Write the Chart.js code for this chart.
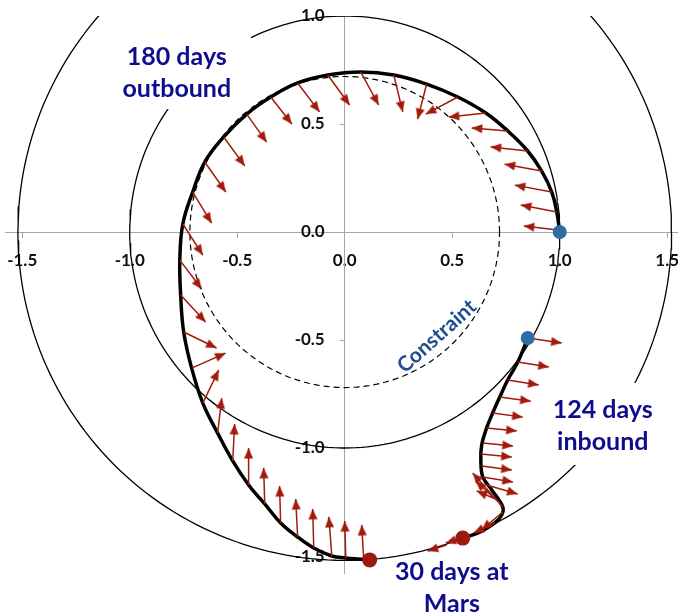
<!DOCTYPE html>
<html>
<head>
<meta charset="utf-8">
<script src="https://cdn.jsdelivr.net/npm/chart.js@4/dist/chart.umd.min.js"></script>
<style>
  html, body { margin: 0; padding: 0; background: #fff; }
  canvas { display: block; }
</style>
</head>
<body>
<canvas id="c" width="678" height="615"></canvas>
<script>
// Axis ticks (AU)
const xTicks = [-1.5, -1.0, -0.5, 0.0, 0.5, 1.0, 1.5];
const yTicks = [1.0, 0.5, 0.0, -0.5, -1.0, -1.5];

// Orbit radii (AU)
const earthRadius = 1.0;
const marsRadius = 1.52;
const constraintRadius = 0.72;

// Outbound leg: Earth departure -> Mars arrival (180 days)
const outX = [1.000, 0.986, 0.963, 0.916, 0.851, 0.758, 0.656, 0.526, 0.381, 0.228, 0.074, -0.079,
  -0.219, -0.344, -0.456, -0.563, -0.651, -0.707, -0.753, -0.767, -0.763, -0.749, -0.712, -0.660, -0.591,
  -0.521, -0.447, -0.372, -0.298, -0.219, -0.144, -0.060, 0.005, 0.060, 0.116];
const outY = [0.000, 0.093, 0.185, 0.282, 0.375, 0.468, 0.551, 0.625, 0.685, 0.727, 0.741, 0.727,
  0.690, 0.625, 0.546, 0.440, 0.324, 0.185, 0.037, -0.130, -0.292, -0.463, -0.630, -0.792, -0.931,
  -1.060, -1.171, -1.259, -1.347, -1.412, -1.463, -1.500, -1.509, -1.514, -1.518];

// Inbound leg: Mars departure -> Earth arrival (124 days)
const inX = [0.549, 0.628, 0.698, 0.730, 0.735, 0.684, 0.642, 0.633, 0.637, 0.660, 0.688, 0.721, 0.758, 0.805, 0.851];
const inY = [-1.417, -1.389, -1.347, -1.310, -1.273, -1.194, -1.134, -1.056, -0.986, -0.907, -0.838, -0.764, -0.685, -0.602, -0.491];

// Thrust vectors: tail position (AU) and direction/magnitude (AU on the plot)
const thrustX = [0.991, 0.986, 0.963, 0.916, 0.851, 0.758, 0.656, 0.526, 0.381, 0.228, 0.074, -0.079, -0.219, -0.344,
  -0.456, -0.563, -0.651, -0.707, -0.753, -0.767, -0.763, -0.749, -0.712, -0.660, -0.591, -0.521, -0.447, -0.372,
  -0.298, -0.219, -0.144, -0.060, 0.005, 0.088,
  0.544, 0.474,
  0.698, 0.735, 0.735, 0.721, 0.702, 0.660, 0.642, 0.637, 0.633, 0.642, 0.660, 0.688, 0.721, 0.758, 0.805, 0.851];
const thrustY = [0.009, 0.093, 0.185, 0.282, 0.375, 0.468, 0.551, 0.625, 0.685, 0.727, 0.741, 0.727, 0.690, 0.625,
  0.546, 0.440, 0.324, 0.185, 0.037, -0.130, -0.292, -0.463, -0.630, -0.792, -0.931, -1.060, -1.171, -1.259,
  -1.347, -1.412, -1.463, -1.500, -1.509, -1.513,
  -1.417, -1.449,
  -1.347, -1.296, -1.273, -1.255, -1.236, -1.171, -1.134, -1.083, -1.028, -0.977, -0.907, -0.838, -0.764, -0.685, -0.602, -0.491];
const thrustU = [-0.158, -0.167, -0.172, -0.172, -0.172, -0.167, -0.172, -0.149, -0.042, 0.042, 0.084, 0.102, 0.102, 0.098,
  0.093, 0.098, 0.098, 0.088, 0.093, 0.102, 0.116, 0.153, 0.158, 0.074, 0.019, 0.009, 0.000, -0.005,
  -0.005, -0.009, -0.005, -0.014, -0.005, -0.009,
  -0.074, -0.088,
  -0.098, -0.098, -0.140, -0.112, -0.088, 0.144, 0.140, 0.140, 0.144, 0.140, 0.140, 0.140, 0.144, 0.144, 0.144, 0.158];
const thrustV = [0.019, 0.032, 0.032, 0.032, 0.019, 0.014, -0.019, -0.079, -0.162, -0.171, -0.153, -0.139, -0.134, -0.125,
  -0.130, -0.134, -0.139, -0.144, -0.144, -0.134, -0.125, -0.074, 0.069, 0.153, 0.162, 0.171, 0.171, 0.167,
  0.171, 0.176, 0.181, 0.181, 0.171, 0.157,
  -0.023, -0.028,
  -0.046, -0.083, 0.157, 0.102, 0.037, -0.042, -0.023, -0.019, -0.014, -0.014, -0.014, -0.019, -0.019, -0.023, -0.023, -0.023];

// Event markers
const earthEventX = [1.000, 0.851];
const earthEventY = [0.000, -0.491];
const marsEventX = [0.116, 0.549];
const marsEventY = [-1.518, -1.417];

// Text notes anchored in plot coordinates (first baseline)
const notes = [
  { lines: ['180 days', 'outbound'], x: -0.781, y: 0.773, panel: [74, 74, 35, 44] },
  { lines: ['124 days', 'inbound'],  x: 1.200,  y: -0.861, panel: [58, 62, 35, 47] },
  { lines: ['30 days at', 'Mars'],   x: 0.498,  y: -1.611, panel: null }
];
const constraintNote = { text: 'Constraint', x: 0.428, y: -0.483, angle: -42 };

const AXIS_GREY = '#A6A6A6';
const ARROW_RED = '#A11A0B';
const NOTE_BLUE = '#0E0E8C';
const CONSTRAINT_BLUE = '#1F4E8F';

const zip = (xs, ys) => xs.map((x, i) => ({ x, y: ys[i] }));

function ring(r) {
  const pts = [];
  for (let a = 0; a <= 360; a += 1.5) {
    const t = a * Math.PI / 180;
    pts.push({ x: r * Math.cos(t), y: r * Math.sin(t) });
  }
  return pts;
}

// Shafts: tail -> tip pairs separated by gaps
const shaftPts = [];
const tipPts = [];
const tipRot = [];
thrustX.forEach((x0, i) => {
  const x1 = x0 + thrustU[i], y1 = thrustY[i] + thrustV[i];
  shaftPts.push({ x: x0, y: thrustY[i] }, { x: x1, y: y1 }, { x: null, y: null });
  tipPts.push({ x: x1, y: y1 });
  tipRot.push(Math.atan2(thrustU[i], thrustV[i]) * 180 / Math.PI);
});

// Arrowhead sprite: tip at the sprite centre, pointing up
const head = document.createElement('canvas');
head.width = 9; head.height = 22;
(function () {
  const g = head.getContext('2d');
  g.fillStyle = ARROW_RED;
  g.beginPath();
  g.moveTo(4.5, 11);
  g.lineTo(9, 21.5);
  g.lineTo(0, 21.5);
  g.closePath();
  g.fill();
})();

// Moves the vertical axis onto x = 0 once the layout is settled;
// its box keeps room on the left for the tick labels
const crossAxes = {
  id: 'crossAxes',
  afterLayout(chart) {
    const y = chart.scales.y;
    const x0 = chart.scales.x.getPixelForValue(0);
    y.left = x0 - 80;
    y.right = x0;
    y.width = 80;
  }
};

const notesPlugin = {
  id: 'notes',
  afterDatasetDraw(chart, args) {
    if (chart.data.datasets[args.index].label !== 'Constraint') return;
    const ctx = chart.ctx, sx = chart.scales.x, sy = chart.scales.y;
    ctx.save();
    ctx.fillStyle = '#fff';
    notes.forEach(n => {
      if (!n.panel) return;
      const px = sx.getPixelForValue(n.x), py = sy.getPixelForValue(n.y);
      const [l, r, t, b] = n.panel;
      ctx.fillRect(px - l, py - t, l + r, t + b);
    });
    ctx.restore();
  },
  afterDraw(chart) {
    const ctx = chart.ctx, sx = chart.scales.x, sy = chart.scales.y;
    ctx.save();
    ctx.font = 'bold 25px Lato';
    ctx.fillStyle = NOTE_BLUE;
    ctx.textAlign = 'center';
    ctx.textBaseline = 'alphabetic';
    notes.forEach(n => {
      const px = sx.getPixelForValue(n.x), py = sy.getPixelForValue(n.y);
      n.lines.forEach((s, k) => ctx.fillText(s, px, py + k * 32));
    });
    const c = constraintNote;
    ctx.translate(sx.getPixelForValue(c.x), sy.getPixelForValue(c.y));
    ctx.rotate(c.angle * Math.PI / 180);
    ctx.font = 'bold 21px Lato';
    ctx.fillStyle = CONSTRAINT_BLUE;
    ctx.textBaseline = 'middle';
    ctx.fillText(c.text, 0, 0);
    ctx.restore();
  }
};

const tickFont = { family: 'Lato', size: 17, weight: 'bold' };

function axisOptions(min, max, ticksArr, horizontal) {
  return {
    type: 'linear',
    min, max,
    position: horizontal ? { y: 0 } : 'left',
    afterFit: s => {
      // the axes sit inside the plot, so they reserve no room of their own
      if (horizontal) s.height = 0; else s.width = 0;
      s.paddingLeft = s.paddingRight = s.paddingTop = s.paddingBottom = 0;
    },
    afterBuildTicks: s => { s.ticks = ticksArr.map(v => ({ value: v })); },
    grid: { drawOnChartArea: false, drawTicks: true, tickLength: 5, color: AXIS_GREY, lineWidth: 1 },
    border: { display: true, color: AXIS_GREY, width: 1 },
    ticks: {
      font: tickFont, color: '#111', padding: horizontal ? 13 : 15, maxRotation: 0, autoSkip: false,
      callback: v => Number(v).toFixed(1)
    }
  };
}

new Chart(document.getElementById('c'), {
  type: 'scatter',
  data: {
    datasets: [
      { label: 'Earth events', data: zip(earthEventX, earthEventY), order: 0,
        pointRadius: 7, backgroundColor: '#2E6CA6', borderWidth: 0 },
      { label: 'Mars events', data: zip(marsEventX, marsEventY), order: 0,
        pointRadius: 7.5, backgroundColor: '#9C1A0B', borderWidth: 0 },
      { label: 'Thrust heads', data: tipPts, order: 1,
        pointStyle: head, pointRadius: 5, pointRotation: tipRot },
      { label: 'Thrust', data: shaftPts, order: 2, showLine: true, spanGaps: false,
        borderColor: ARROW_RED, borderWidth: 1.5, pointRadius: 0 },
      { label: 'Outbound', data: zip(outX, outY), order: 3, showLine: true,
        borderColor: '#000', borderWidth: 3.5, pointRadius: 0, tension: 0.4 },
      { label: 'Inbound', data: zip(inX, inY), order: 3, showLine: true,
        borderColor: '#000', borderWidth: 3.5, pointRadius: 0, tension: 0.35 },
      { label: 'Constraint', data: ring(constraintRadius), order: 4, showLine: true,
        borderColor: '#000', borderWidth: 1.2, borderDash: [6, 4], pointRadius: 0 },
      { label: 'Earth orbit', data: ring(earthRadius), order: 5, showLine: true,
        borderColor: '#000', borderWidth: 1.3, pointRadius: 0 },
      { label: 'Mars orbit', data: ring(marsRadius), order: 6, showLine: true,
        borderColor: '#000', borderWidth: 1.3, pointRadius: 0 }
    ]
  },
  options: {
    responsive: false,
    animation: false,
    devicePixelRatio: 1,
    layout: { autoPadding: false, padding: { left: 5, top: 16, right: 0, bottom: 41.7 } },
    plugins: { legend: { display: false }, tooltip: { enabled: false } },
    events: [],
    scales: {
      x: axisOptions(-1.58, 1.55, xTicks, true),
      y: axisOptions(-1.58, 1.0, yTicks, false)
    }
  },
  plugins: [crossAxes, notesPlugin]
});
</script>
</body>
</html>
